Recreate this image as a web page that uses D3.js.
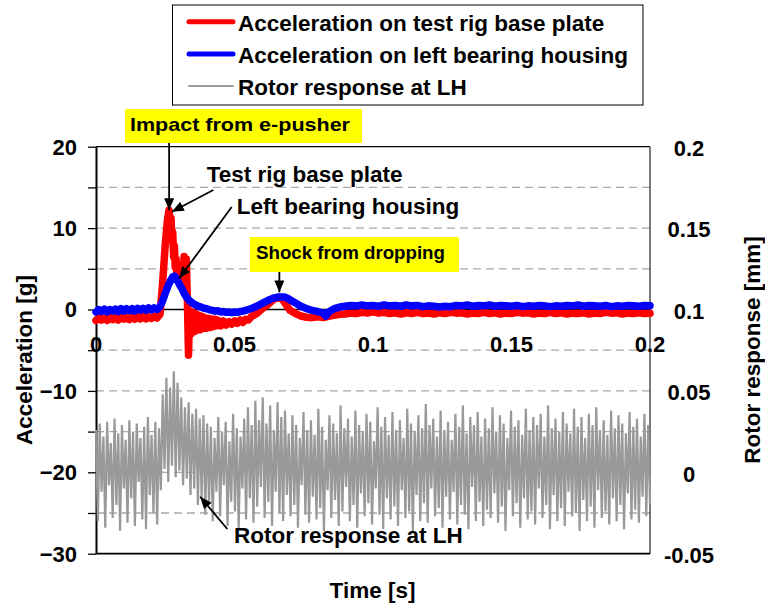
<!DOCTYPE html>
<html>
<head>
<meta charset="utf-8">
<script src="https://cdn.jsdelivr.net/npm/d3@7"></script>
<style>
  html, body { margin: 0; padding: 0; background: #fff; }
  svg { display: block; font-family: "Liberation Sans", Arial, sans-serif; font-weight: bold; }
</style>
</head>
<body>
<svg id="chart" width="765" height="609"></svg>
<script>
// ---- Series: acceleration on the test rig base plate [g] ----
const redTime = [
  0, .001, .002, .003, .004, .005, .006, .007, .008, .009, .010, .011, .012, .013, .014, .015, .016, .017, .018, .019, .020, .021, .022,
  .0231, .0240, .0250, .0258, .02635, .0268, .0271, .0274, .0277, .0280, .0283, .0286, .0289, .0292, .0295, .0298, .0302, .0306, .0310,
  .0314, .0318, .0322, .0326, .0330, .0334, .0337, .0340, .0343, .0346, .0349, .0352, .0355, .0358, .0361, .0364, .0367, .0370, .0374,
  .0378, .0382, .0386, .0390, .0394, .0398, .0402, .0406, .0410, .0415, .0420, .0425, .0430, .0435, .0440, .0450, .0460, .0470, .0480,
  .0490, .0500, .0510, .0520, .0530, .0540, .0550, .0560, .0580, .0600, .0620, .0640, .0655, .0670, .0680, .0700, .0720, .0740, .0760,
  .0780, .0800, .0820, .0840, .0860, .0880, .0900, .0920, .0940, .0960, .0980, .1000, .1020, .1040, .1060, .1080, .1100, .1120, .1140,
  .1160, .1180, .1200, .1220, .1240, .1260, .1280, .1300, .1320, .1340, .1360, .1380, .1400, .1420, .1440, .1460, .1480, .1500, .1520,
  .1540, .1560, .1580, .1600, .1620, .1640, .1660, .1680, .1700, .1720, .1740, .1760, .1780, .1800, .1820, .1840, .1860, .1880, .1900,
  .1920, .1940, .1960, .1980, .2000
];
const redAccel = [
  -1.35, -1.0, -1.3, -1.05, -1.35, -0.95, -1.25, -1.0, -1.3, -0.95, -1.2, -0.95, -1.25, -0.9, -1.2, -0.9, -1.15, -0.85, -1.15, -0.9, -1.1, -0.85, -1.05,
  -0.6, 3.0, 8.0, 11.0, 12.2, 10.5, 11.2, 8.5, 9.5, 6.5, 7.8, 5.2, 6.2, 4.2, 5.2, 3.5, 4.5, 3.2, 4.2,
  3.8, 6.5, 5.2, 6.2, 1.0, -5.6, -1.5, -0.2, -3.0, -0.3, -2.8, -0.4, -2.7, -0.5, -2.6, -0.6, -2.5, -0.7, -2.5,
  -0.8, -2.4, -0.9, -2.3, -1.0, -2.3, -1.1, -2.2, -1.1, -2.2, -1.2, -2.1, -1.2, -2.0, -1.3, -2.0, -1.4, -1.9, -1.5,
  -1.8, -1.4, -1.7, -1.3, -1.6, -1.2, -1.3, -0.9, -0.5, 0.1, 0.6, 1.2, 1.45, 1.35, 0.9, -0.1, -0.5, -0.8, -0.95,
  -1.0, -0.9, -1.0, -0.85, -0.7, -0.6, -0.55, -0.45, -0.5, -0.35, -0.45, -0.3, -0.45, -0.35, -0.5, -0.4, -0.55, -0.4, -0.5,
  -0.35, -0.5, -0.45, -0.55, -0.4, -0.5, -0.35, -0.45, -0.4, -0.55, -0.45, -0.5, -0.35, -0.5, -0.4, -0.55, -0.45, -0.5, -0.35,
  -0.45, -0.4, -0.55, -0.45, -0.5, -0.35, -0.5, -0.4, -0.55, -0.45, -0.5, -0.4, -0.55, -0.45, -0.5, -0.35, -0.45, -0.4, -0.55,
  -0.45, -0.5, -0.4, -0.5, -0.45
];

// ---- Series: acceleration on the left bearing housing [g] ----
const blueTime = [
  0, .001, .002, .003, .004, .005, .006, .007, .008, .009, .010, .011, .012, .013, .014, .015, .016, .017, .018, .019, .020, .021, .022,
  .0230, .0240, .0250, .0260, .0270, .0277, .0283, .0290, .0297, .0304, .0311, .0318, .0325, .0332, .0340, .0350, .0360, .0370, .0380,
  .0390, .0400, .0410, .0420, .0430, .0440, .0450, .0460, .0470, .0480, .0490, .0500, .0510, .0520, .0530, .0540, .0550, .0560, .0580,
  .0600, .0620, .0640, .0660, .0680, .0690, .0700, .0720, .0740, .0760, .0780, .0800, .0820, .0830, .0840, .0860, .0880, .0900, .0920,
  .0940, .0960, .0980, .1000, .1020, .1040, .1060, .1080, .1100, .1120, .1140, .1160, .1180, .1200, .1220, .1240, .1260, .1280, .1300,
  .1320, .1340, .1360, .1380, .1400, .1420, .1440, .1460, .1480, .1500, .1520, .1540, .1560, .1580, .1600, .1620, .1640, .1660, .1680,
  .1700, .1720, .1740, .1760, .1780, .1800, .1820, .1840, .1860, .1880, .1900, .1920, .1940, .1960, .1980, .2000
];
const blueAccel = [
  -0.3, 0.0, -0.25, 0.05, -0.3, 0.0, -0.2, 0.05, -0.25, 0.1, -0.2, 0.1, -0.15, 0.1, -0.2, 0.15, -0.1, 0.15, -0.1, 0.2, -0.05, 0.2, 0.0,
  0.3, 1.0, 2.0, 2.9, 3.6, 4.0, 4.1, 3.8, 3.4, 2.9, 2.5, 2.0, 1.6, 1.3, 1.0, 0.75, 0.55, 0.4, 0.3,
  0.15, 0.1, -0.05, -0.1, -0.2, -0.15, -0.3, -0.25, -0.35, -0.3, -0.4, -0.3, -0.35, -0.25, -0.2, -0.1, 0.0, 0.1, 0.4,
  0.75, 1.1, 1.4, 1.55, 1.55, 1.4, 1.2, 0.8, 0.4, 0.1, -0.1, -0.25, -0.45, -0.8, -0.3, 0.1, 0.3, 0.4, 0.5,
  0.45, 0.55, 0.45, 0.5, 0.4, 0.55, 0.45, 0.5, 0.4, 0.55, 0.45, 0.5, 0.35, 0.45, 0.4, 0.3, 0.4, 0.35, 0.5,
  0.45, 0.55, 0.4, 0.5, 0.45, 0.55, 0.4, 0.5, 0.45, 0.4, 0.5, 0.35, 0.45, 0.4, 0.5, 0.45, 0.35, 0.45, 0.4,
  0.5, 0.45, 0.55, 0.4, 0.5, 0.45, 0.4, 0.5, 0.35, 0.45, 0.4, 0.5, 0.45, 0.4, 0.5, 0.45
];

// ---- Series: rotor response at LH [mm], evenly sampled over 0 - 0.2 s ----
const rotorResponse = [
  .026,-.030, .030,-.012, .022,-.034, .031,-.008, .018,-.028, .033,-.020, .024,-.036, .029,-.010, .020,-.031,
  .032,-.016, .025,-.033, .030,-.006, .021,-.029, .028,-.035, .034,-.014, .023,-.025, .031,-.032, .027,-.011,
  .048,.002, .058,-.006, .052,.004, .062,-.003, .055,.001,
  .046,-.008, .040,-.004, .043,-.014, .036,-.010, .039,-.020, .033,-.016, .035,-.026, .030,-.019,
  .028,-.030, .021,-.012, .034,-.027, .025,-.008, .031,-.033, .019,-.018, .036,-.024, .027,-.035, .022,-.010,
  .033,-.029, .040,-.016, .029,-.031, .044,-.021, .032,-.009, .046,-.028, .030,-.018, .041,-.033, .026,-.012,
  .043,-.025, .034,-.030, .038,-.014, .024,-.027, .035,-.020, .029,-.034, .021,-.008, .037,-.026, .026,-.031,
  .032,-.015, .023,-.029, .039,-.022, .028,-.036, .020,-.011, .035,-.028, .030,-.017, .024,-.033, .041,-.024,
  .027,-.009, .033,-.030, .022,-.020, .038,-.034, .029,-.013, .025,-.027, .036,-.019, .031,-.032, .019,-.010,
  .040,-.026, .028,-.035, .034,-.016, .023,-.029, .037,-.021, .026,-.033, .032,-.011, .021,-.028, .039,-.024,
  .030,-.036, .025,-.014, .035,-.030, .027,-.019, .042,-.031, .029,-.010, .033,-.027, .022,-.022, .038,-.034,
  .026,-.015, .031,-.029, .020,-.012, .036,-.032, .028,-.020, .041,-.026, .024,-.035, .034,-.009, .029,-.030,
  .037,-.018, .022,-.033, .033,-.023, .027,-.028, .040,-.013, .025,-.031, .035,-.021, .030,-.036, .021,-.011,
  .038,-.027, .028,-.019, .032,-.034, .023,-.016, .039,-.029, .026,-.024, .034,-.032, .029,-.010, .036,-.028,
  .022,-.020, .041,-.035, .027,-.014, .033,-.030, .025,-.022, .037,-.033, .030,-.012, .024,-.027, .039,-.025,
  .028,-.036, .034,-.017, .021,-.030, .036,-.021, .029,-.034, .040,-.011, .026,-.028, .032,-.024, .023,-.032,
  .038,-.016, .027,-.030, .035,-.020, .030,-.035, .024,-.013, .037,-.029, .028,-.023, .033,-.031, .022,-.015,
  .036,-.027, .029,-.020
];

// ---- Axes ----
const timeTicks = [0, 0.05, 0.1, 0.15, 0.2];
const accelTicks = [20, 15, 10, 5, 0, -5, -10, -15, -20, -25, -30];
const accelLabels = [20, 10, 0, -10, -20, -30];
const rotorTicks = [0.2, 0.15, 0.1, 0.05, 0, -0.05];

const legendItems = [
  { label: "Acceleration on test rig base plate", color: "#ff0000", width: 5 },
  { label: "Acceleration on left bearing housing", color: "#0000ff", width: 5 },
  { label: "Rotor response at LH", color: "#999999", width: 2 }
];

const svg = d3.select("#chart");
const plot = { left: 96, right: 650, top: 146.7, bottom: 553.7 };

const x = d3.scaleLinear().domain([0, 0.2]).range([plot.left, plot.right]);
const yAcc = d3.scaleLinear().domain([-30, 20]).range([plot.bottom, plot.top]);
const yRot = d3.scaleLinear().domain([-0.05, 0.2]).range([plot.bottom, plot.top]);

// dashed horizontal gridlines
svg.append("g").selectAll("line")
  .data(accelTicks.filter(v => v !== 20 && v !== -30 && v !== 0))
  .join("line")
  .attr("x1", plot.left).attr("x2", plot.right)
  .attr("y1", d => yAcc(d)).attr("y2", d => yAcc(d))
  .attr("stroke", "#a8a8a8").attr("stroke-width", 1.3)
  .attr("stroke-dasharray", "8,5");

// frame (top, right and bottom sides)
svg.append("line").attr("x1", plot.left).attr("x2", plot.right)
  .attr("y1", plot.top).attr("y2", plot.top).attr("stroke", "#000").attr("stroke-width", 1.3);
svg.append("line").attr("x1", plot.right).attr("x2", plot.right)
  .attr("y1", plot.top).attr("y2", plot.bottom).attr("stroke", "#222").attr("stroke-width", 1.2);
svg.append("line").attr("x1", plot.left).attr("x2", plot.right)
  .attr("y1", plot.bottom).attr("y2", plot.bottom).attr("stroke", "#000").attr("stroke-width", 1.8);

// time axis through zero acceleration
svg.append("line").attr("x1", plot.left).attr("x2", plot.right)
  .attr("y1", yAcc(0)).attr("y2", yAcc(0)).attr("stroke", "#000").attr("stroke-width", 1.3);

// left acceleration axis
const leftAxis = d3.axisLeft(yAcc).tickValues(accelTicks).tickSize(8).tickSizeOuter(0)
  .tickFormat(d => accelLabels.includes(d) ? d3.format("d")(d) : "").tickPadding(11);
const gL = svg.append("g").attr("transform", `translate(${plot.left},0)`).call(leftAxis);
gL.select(".domain").attr("stroke", "#000").attr("stroke-width", 2);
gL.selectAll(".tick line").attr("stroke", "#000").attr("stroke-width", 1.3);
gL.selectAll(".tick text").attr("font-size", 22).attr("font-family", "Liberation Sans, Arial, sans-serif")
  .attr("font-weight", "bold").attr("fill", "#000").attr("dy", "0.34em");

// right rotor axis: labels only
svg.append("g").selectAll("text").data(rotorTicks).join("text")
  .attr("x", 689).attr("y", d => yRot(d)).attr("dy", "0.42em")
  .attr("text-anchor", "middle").attr("font-size", 22).text(d => String(d));

// time tick labels under the zero line
svg.append("g").selectAll("text").data(timeTicks).join("text")
  .attr("x", d => x(d)).attr("y", yAcc(0) + 42).attr("text-anchor", "middle")
  .attr("font-size", 22).text(d => String(d));

// ---- Series lines ----
const rotorStep = 0.2 / (rotorResponse.length - 1);
const rotorLine = d3.line().x((d, i) => x(i * rotorStep)).y(d => yRot(d));
svg.append("path").datum(rotorResponse).attr("d", rotorLine)
  .attr("fill", "none").attr("stroke", "#999999").attr("stroke-width", 2.2);

const accLine = d3.line().x(d => x(d[0])).y(d => yAcc(d[1]));
const redData = d3.zip(redTime, redAccel);
const blueData = d3.zip(blueTime, blueAccel);
svg.append("path").datum(redData).attr("d", accLine)
  .attr("fill", "none").attr("stroke", "#ff0000").attr("stroke-width", 7.5)
  .attr("stroke-linejoin", "round").attr("stroke-linecap", "round");
svg.append("path").datum(blueData).attr("d", accLine)
  .attr("fill", "none").attr("stroke", "#0000ff").attr("stroke-width", 7.5)
  .attr("stroke-linejoin", "round").attr("stroke-linecap", "round");

// ---- Axis titles ----
svg.append("text").attr("transform", "translate(32,360) rotate(-90)")
  .attr("text-anchor", "middle").attr("font-size", 22.5).text("Acceleration [g]");
svg.append("text").attr("transform", "translate(760,350) rotate(-90)")
  .attr("text-anchor", "middle").attr("font-size", 22.5).text("Rotor response [mm]");
svg.append("text").attr("x", 372.5).attr("y", 598)
  .attr("text-anchor", "middle").attr("font-size", 22.5).text("Time [s]");

// ---- Legend ----
const legend = svg.append("g");
legend.append("rect").attr("x", 172.5).attr("y", 5).attr("width", 470.5).attr("height", 100)
  .attr("fill", "#fff").attr("stroke", "#000").attr("stroke-width", 1);
legendItems.forEach((item, i) => {
  const base = 30.7 + i * 32.2;
  legend.append("line").attr("x1", 189).attr("x2", 233)
    .attr("y1", base - 9).attr("y2", base - 9)
    .attr("stroke", item.color).attr("stroke-width", item.width).attr("stroke-linecap", "round");
  legend.append("text").attr("x", 238).attr("y", base).attr("font-size", 22.5).text(item.label);
});

// ---- Annotations ----
const defs = svg.append("defs");
defs.append("marker").attr("id", "head").attr("viewBox", "0 0 12 10")
  .attr("refX", 12).attr("refY", 5).attr("markerWidth", 12).attr("markerHeight", 10)
  .attr("markerUnits", "userSpaceOnUse").attr("orient", "auto")
  .append("path").attr("d", "M0,0L12,5L0,10Z").attr("fill", "#000");

function arrow(x1, y1, x2, y2) {
  svg.append("line").attr("x1", x1).attr("y1", y1).attr("x2", x2).attr("y2", y2)
    .attr("stroke", "#000").attr("stroke-width", 1.8).attr("marker-end", "url(#head)");
}

// boxed call-outs
svg.append("rect").attr("x", 125).attr("y", 109).attr("width", 237).attr("height", 34).attr("fill", "#ffff00");
svg.append("text").attr("x", 130).attr("y", 130.7).attr("font-size", 19)
  .attr("textLength", 220).attr("lengthAdjust", "spacingAndGlyphs").text("Impact from e-pusher");
svg.append("rect").attr("x", 250).attr("y", 237).attr("width", 209).attr("height", 35).attr("fill", "#ffff00");
svg.append("text").attr("x", 256).attr("y", 258.5).attr("font-size", 18.7).text("Shock from dropping");

// plain labels
svg.append("text").attr("x", 206.7).attr("y", 182).attr("font-size", 22.5).text("Test rig base plate");
svg.append("text").attr("x", 236.7).attr("y", 214).attr("font-size", 22.5).text("Left bearing housing");
svg.append("text").attr("x", 234).attr("y", 543).attr("font-size", 22.5).text("Rotor response at LH");

// arrows pointing at the features of the traces
arrow(x(0.0264), 143, x(0.0264), yAcc(12.2));
arrow(213.3, 190, x(0.0274), yAcc(12.0));
arrow(231.7, 207, x(0.0300), yAcc(3.8));
arrow(x(0.0662), 272, x(0.0662), yAcc(2.1));
arrow(227.3, 529, x(0.0376), yRot(-0.015));
</script>
</body>
</html>
